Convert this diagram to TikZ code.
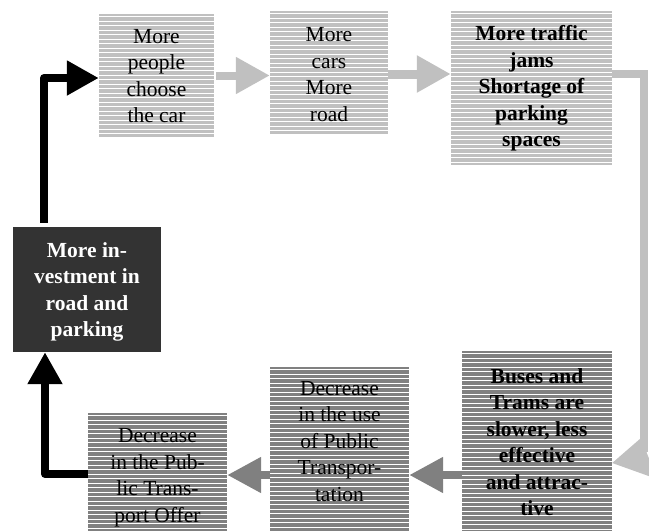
\documentclass[tikz,border=0pt]{standalone}
\usepackage{fontspec}
\setmainfont{Liberation Serif}
\usetikzlibrary{arrows.meta}
\definecolor{lightg}{HTML}{C0C0C0}
\definecolor{darkg}{HTML}{808080}
\definecolor{boxdark}{HTML}{333333}
\tikzset{
  stripes/.style={path picture={
    \foreach \k in {1,...,45}{
      \draw[white,line width=0.9pt]
        ([yshift=-\k*4.5pt+2pt]path picture bounding box.north west) --
        ([yshift=-\k*4.5pt+2pt]path picture bounding box.north east);}}},
  lbox/.style={fill=lightg, inner sep=0pt, stripes},
  dbox/.style={fill=darkg, inner sep=0pt, stripes},
  txt/.style={align=center, inner sep=0pt, font=\fontsize{21.5}{26.5}\selectfont},
  btxt/.style={txt, font=\fontsize{21.5}{26.5}\selectfont\bfseries},
  larrow/.style={draw=lightg, line width=8pt, -{Triangle[length=34pt,width=35pt]}},
  darrow/.style={draw=darkg, line width=8pt, -{Triangle[length=34pt,width=34pt]}},
  karrow/.style={draw=black, line width=8pt, line join=round, -{Triangle[length=32pt,width=33pt]}},
}
\begin{document}
\begin{tikzpicture}[x=1pt,y=-1pt]
\useasboundingbox (0,0) rectangle (649,531);
% boxes
\node[lbox, minimum width=115pt, minimum height=123pt] (b1) at (156.5,75.5) {};
\node[lbox, minimum width=118pt, minimum height=123pt] (b2) at (329,72.5) {};
\node[lbox, minimum width=161pt, minimum height=154pt] (b3) at (531.5,88) {};
\node[dbox, minimum width=150pt, minimum height=184pt] (b4) at (537,443) {};
\node[dbox, minimum width=139pt, minimum height=168pt] (b5) at (339.5,451) {};
\node[dbox, minimum width=139pt, minimum height=122pt] (b6) at (157.5,474) {};
\node[fill=boxdark, inner sep=0pt, minimum width=148pt, minimum height=125pt] (b7) at (87,289.5) {};
% texts
\node[txt] (t1) at (156.5,76) {More\\people\\choose\\the car};
\node[txt] (t2) at (329,74.5) {More\\cars\\More\\road};
\node[btxt] (t3) at (531.5,88.5) {More traffic\\jams\\Shortage of\\parking\\spaces};
\node[btxt] (t4) at (537,442) {Buses and\\Trams are\\slower, less\\effective\\and attrac-\\tive};
\node[txt] (t5) at (339.5,441.5) {Decrease\\in the use\\of Public\\Transpor-\\tation};
\node[txt] (t6) at (157.5,477.5) {Decrease\\in the Pub-\\lic Trans-\\port Offer};
\node[btxt, text=white] (t7) at (87,292) {More in-\\vestment in\\road and\\parking};
% connectors
\coordinate (c34) at (644,74);
\coordinate (c67) at (45,474);
\coordinate (c71) at (44,78);
\draw[larrow, shorten <=2pt] (b1.east) -- (b1.east -| b2.west);
\draw[larrow, line width=9pt] (b2.east |- 0,74) -- (b3.west |- 0,74);
\draw[draw=lightg, line width=8pt, line join=miter] (b3.east |- c34) -- (c34) -- ++(0,378);
\fill[lightg] (b4.east |- 0,463) -- (641,438) -- (657,479) -- cycle;
\draw[darrow] (b4.west |- 0,475) -- (b5.east |- 0,475);
\draw[darrow] (b5.west |- 0,475) -- (b6.east |- 0,475);
\draw[karrow] (b6.west |- c67) -- (c67) -- (c67 |- b7.south);
\draw[karrow, shorten <=4pt] (c71 |- b7.north) -- (c71) -- (c71 -| b1.west);
\end{tikzpicture}
\end{document}
